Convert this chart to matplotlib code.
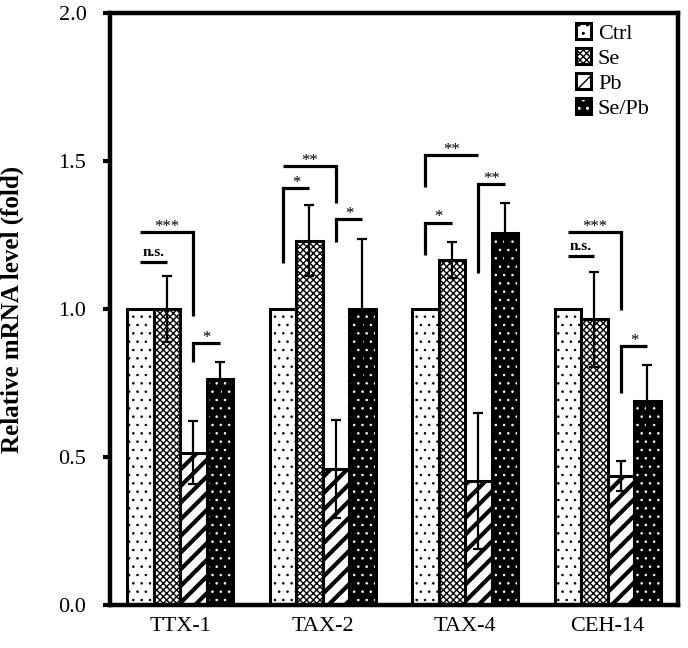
import numpy as np
import matplotlib.pyplot as plt
from matplotlib.patches import Patch
from matplotlib.ticker import FormatStrFormatter

genes = ['TTX-1', 'TAX-2', 'TAX-4', 'CEH-14']
groups = ['Ctrl', 'Se', 'Pb', 'Se/Pb']

ctrl = [1.0, 1.0, 1.0, 1.0]
se = [1.0, 1.23, 1.165, 0.965]
se_err = [0.11, 0.12, 0.06, 0.16]
pb = [0.515, 0.46, 0.418, 0.436]
pb_err = [0.105, 0.165, 0.23, 0.05]
sepb = [0.762, 1.0, 1.257, 0.69]
sepb_err = [0.06, 0.235, 0.10, 0.12]

# significance marks: gene, bar a, bar b, top, left leg end, right leg end, label
sig = [
    (0, 0, 1, 1.159, None, None, 'n.s.'),
    (0, 0, 2, 1.26, None, 0.976, '***'),
    (0, 2, 3, 0.885, 0.821, None, '*'),
    (1, 0, 1, 1.409, 1.155, None, '*'),
    (1, 0, 2, 1.483, None, 1.358, '**'),
    (1, 2, 3, 1.304, 1.226, None, '*'),
    (2, 0, 2, 1.52, 1.412, None, '**'),
    (2, 0, 1, 1.291, 1.182, None, '*'),
    (2, 2, 3, 1.422, 1.122, None, '**'),
    (3, 0, 1, 1.179, None, None, 'n.s.'),
    (3, 0, 2, 1.26, None, 0.997, '***'),
    (3, 2, 3, 0.875, 0.716, None, '*'),
]

plt.rcParams['font.family'] = ['Liberation Serif', 'DejaVu Serif']

values = [ctrl, se, pb, sepb]
errors = [None, se_err, pb_err, sepb_err]
# face colour, hatch, hatch colour, hatch linewidth
styles = [('white', '..', 'black', 0.6),
          ('white', 'xxxxx', 'black', 1.0),
          ('white', '//', 'black', 3.0),
          ('black', '..', 'white', 0.6)]

fig = plt.figure(figsize=(6.88, 6.48), dpi=100)
ax = fig.add_axes([0.16, 0.0664, 0.8256, 0.9136])

x = np.arange(len(genes))
w = 0.186
offsets = (np.arange(4) - 1.5) * w

handles = []
for k in range(4):
    fc, hatch, hc, hlw = styles[k]
    fill = ax.bar(x + offsets[k], values[k], w, color=fc, edgecolor=hc,
                  hatch=hatch, linewidth=0, zorder=1)
    for b in fill:
        if hasattr(b, 'set_hatch_linewidth'):
            b.set_hatch_linewidth(hlw)
    ax.bar(x + offsets[k], values[k], w, fill=False, edgecolor='black',
           linewidth=2.2, zorder=2)
    if errors[k] is not None:
        ax.errorbar(x + offsets[k], values[k], yerr=errors[k], fmt='none',
                    ecolor='black', elinewidth=1.6, capsize=3.5,
                    capthick=1.6, zorder=3)
    p1 = Patch(facecolor=fc, edgecolor=hc, hatch=hatch, linewidth=0)
    if hasattr(p1, 'set_hatch_linewidth'):
        p1.set_hatch_linewidth(hlw)
    p2 = Patch(fill=False, edgecolor='black', linewidth=2.2)
    handles.append((p1, p2))

for g, a, b, top, lb, rb, lab in sig:
    xa = x[g] + offsets[a]
    xb = x[g] + offsets[b]
    xs, ys = [], []
    if lb is not None:
        xs.append(xa)
        ys.append(lb)
    xs += [xa, xb]
    ys += [top, top]
    if rb is not None:
        xs.append(xb)
        ys.append(rb)
    ax.plot(xs, ys, color='black', lw=2.3, solid_capstyle='butt',
            solid_joinstyle='miter', zorder=4)
    if lab == 'n.s.':
        ax.annotate(lab, ((xa + xb) / 2, top), xytext=(0, 4),
                    textcoords='offset points', ha='center', va='baseline',
                    fontsize=11, fontweight='bold')
    else:
        ax.annotate(lab, ((xa + xb) / 2, top), xytext=(0, 1),
                    textcoords='offset points', ha='center', va='baseline',
                    fontsize=12)

ax.set_xlim(-0.491, 3.495)
ax.set_ylim(0, 2.0)
ax.set_xticks(x)
ax.set_xticklabels(genes)
ax.set_yticks([0, 0.5, 1.0, 1.5, 2.0])
ax.yaxis.set_major_formatter(FormatStrFormatter('%.1f'))
ax.tick_params(axis='y', direction='out', length=5, width=3, labelsize=16, pad=12)
ax.tick_params(axis='x', length=0, labelsize=16, pad=9)
for s in ax.spines.values():
    s.set_linewidth(3.2)

ax.set_ylabel('Relative mRNA level (fold)', fontsize=18, fontweight='bold')
ax.yaxis.set_label_coords(-0.152, 0.5)

ax.legend(handles, groups, loc='upper right', bbox_to_anchor=(0.958, 0.99),
          frameon=False, fontsize=16, handlelength=0.7, handleheight=0.7,
          handletextpad=0.3, labelspacing=0.2, borderpad=0.2, borderaxespad=0)

plt.savefig('out.png', dpi=100)
